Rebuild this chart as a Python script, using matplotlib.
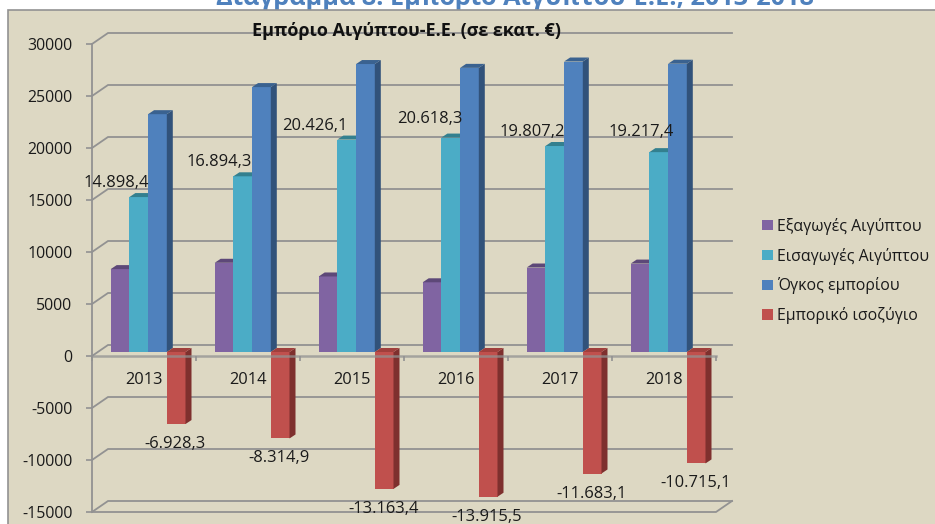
import numpy as np
import matplotlib
matplotlib.use('Agg')
import matplotlib.pyplot as plt
from matplotlib.patches import Polygon, Rectangle

plt.rcParams['font.family'] = ['Open Sans', 'DejaVu Sans']
plt.rcParams['axes.unicode_minus'] = False

years = ['2013', '2014', '2015', '2016', '2017', '2018']
exports_eg = [7970.1, 8579.4, 7262.7, 6702.8, 8124.1, 8502.3]
imports_eg = [14898.4, 16894.3, 20426.1, 20618.3, 19807.2, 19217.4]
volume = [22868.5, 25473.7, 27688.8, 27321.1, 27931.3, 27719.7]
balance = [-6928.3, -8314.9, -13163.4, -13915.5, -11683.1, -10715.1]
imports_labels = ['14.898,4', '16.894,3', '20.426,1', '20.618,3', '19.807,2', '19.217,4']
balance_labels = ['-6.928,3', '-8.314,9', '-13.163,4', '-13.915,5', '-11.683,1', '-10.715,1']
series_names = ['Εξαγωγές Αιγύπτου', 'Εισαγωγές Αιγύπτου', 'Όγκος εμπορίου', 'Εμπορικό ισοζύγιο']
y_ticks = np.arange(-15000, 30001, 5000)

W, H = 935, 524
fig = plt.figure(figsize=(W / 100, H / 100), dpi=100, facecolor='white')

bg = '#ddd8c3'
grey = '#929292'
fig.add_artist(Rectangle((8 / W, -0.01), 1, 1 - 10 / H + 0.01, transform=fig.transFigure,
                         facecolor=bg, edgecolor=grey, linewidth=1.2, zorder=-5))

# the heading is cut by the top edge in the source too
fig.text(515 / W, 1 - 5 / H, 'Διάγραμμα 8: Εμπόριο Αιγύπτου-Ε.Ε., 2013-2018', color='#4f81bd',
         fontsize=18.2, fontweight='bold', ha='center', va='baseline', zorder=-6)

ax = fig.add_axes([92 / W, 1 - 512 / H, 624 / W, 468 / H])
ax.patch.set_visible(False)
ax.set_xlim(0, 6)
ax.set_ylim(-15000, 30000)

# pseudo 3d offsets, in data units
wall_dx, wall_dy = 16 / 104, 11 / 0.0104
bar_dy = 4 / 0.0104
side_dx, side_dy = 6 / 104, 4 / 0.0104
bar_w = 18.7 / 104
first = 18.7 / 104


def bars3d(vals, slot, color, side, top, z):
    x0 = np.arange(6) + first + slot * bar_w
    b = ax.bar(x0, vals, bar_w, bottom=bar_dy, align='edge', color=color, zorder=z)
    for x, v in zip(x0, vals):
        t = v + bar_dy if v > 0 else bar_dy
        lo, hi = (bar_dy, t) if v > 0 else (v + bar_dy, bar_dy)
        ax.add_patch(Polygon([(x + bar_w, lo), (x + bar_w + side_dx, lo + side_dy),
                              (x + bar_w + side_dx, hi + side_dy), (x + bar_w, hi)],
                             facecolor=side, edgecolor='none', zorder=z, clip_on=False))
        ax.add_patch(Polygon([(x, t), (x + side_dx, t + side_dy),
                              (x + bar_w + side_dx, t + side_dy), (x + bar_w, t)],
                             facecolor=top, edgecolor='none', zorder=z, clip_on=False))
    return b


# back wall gridlines
for v in y_ticks:
    ax.plot([0, wall_dx, 6 + wall_dx], [v, v + wall_dy, v + wall_dy], color=grey, lw=1.3,
            clip_on=False, zorder=1, solid_joinstyle='miter')
ax.plot([0, 6, 6 + wall_dx], [-15000, -15000, -15000 + wall_dy], color=grey, lw=1.3,
        clip_on=False, zorder=1)

h1 = bars3d(exports_eg, 0, '#8064a2', '#5d4878', '#5d4878', 3)
h2 = bars3d(imports_eg, 1, '#4bacc6', '#33808f', '#33808f', 4)
h3 = bars3d(volume, 2, '#4f81bd', '#31527a', '#3a6290', 5)
h4 = bars3d(balance, 3, '#c0504d', '#7e302e', '#a03f3c', 6)

for sp in ['top', 'right']:
    ax.spines[sp].set_visible(False)
ax.spines['bottom'].set_position(('data', 0))
ax.spines['bottom'].set_color(grey)
ax.spines['bottom'].set_linewidth(1.8)
ax.spines['bottom'].set_alpha(0.75)
ax.spines['bottom'].set_zorder(8)
ax.spines['left'].set_color(grey)
ax.spines['left'].set_linewidth(1.3)

ax.set_yticks(y_ticks)
ax.tick_params(axis='y', length=4.5, width=1.2, color=grey, pad=9.5, labelsize=11.4, labelcolor='#1a1a1a')
ax.set_xticks(np.arange(7))
ax.set_xticklabels([])
ax.tick_params(axis='x', which='major', length=3.5, width=1.2, color=grey)
ax.set_xticks(np.arange(6) + 0.5, labels=years, minor=True)
ax.tick_params(axis='x', which='minor', length=0, pad=11.5, labelsize=11.8, labelcolor='#1a1a1a')

# value labels
imp_dx = [-22, -24, -32, -21, -22, -18]
imp_dy = [14, 14, 14, 18.5, 14, 20]
for i in range(6):
    xc = i + first + 1.5 * bar_w
    ax.annotate(imports_labels[i], (xc, imports_eg[i] + bar_dy), xytext=(imp_dx[i], imp_dy[i]),
                textcoords='offset pixels', ha='center', va='center', fontsize=11.9,
                color='#1a1a1a', zorder=7, annotation_clip=False)
    xc = i + first + 3.5 * bar_w
    ax.annotate(balance_labels[i], (xc, balance[i] + bar_dy), xytext=(-1, -20),
                textcoords='offset pixels', ha='center', va='center', fontsize=11.9,
                color='#1a1a1a', zorder=7, annotation_clip=False)

fig.text(406 / W, 1 - 31 / H, 'Εμπόριο Αιγύπτου-Ε.Ε. (σε εκατ. €)', fontsize=13, fontweight='bold',
         color='#111111', ha='center', va='center', zorder=10)

fig.legend([h1, h2, h3, h4], series_names, loc='center left', bbox_to_anchor=(754 / W, 1 - 271 / H),
           frameon=False, fontsize=11.4, handlelength=0.68, handleheight=0.68, handletextpad=0.28,
           labelspacing=0.82, borderpad=0, labelcolor='#1a1a1a')

fig.savefig('out.png', dpi=100, facecolor='white')
